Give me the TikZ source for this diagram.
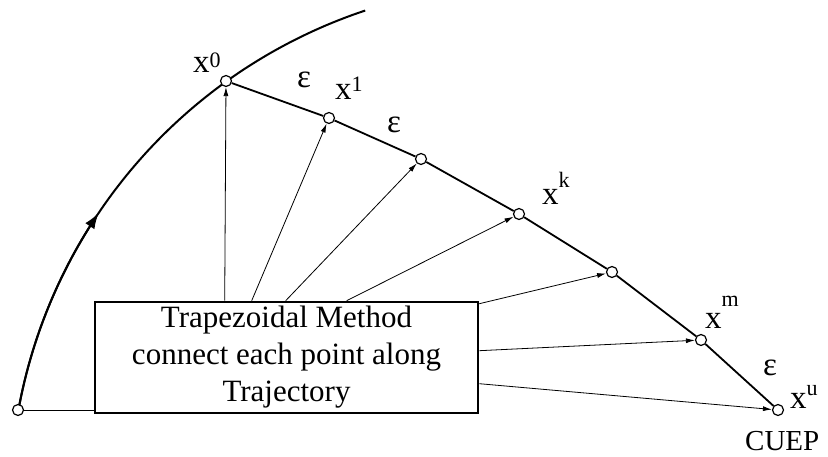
\documentclass[tikz,border=0pt]{standalone}
\usepackage{fontspec}
\setmainfont{Liberation Serif}
\usetikzlibrary{arrows.meta,calc}
\tikzset{
  pt/.style={circle,draw,fill=white,inner sep=0pt,minimum size=11pt,line width=1.2pt},
  traj/.style={line width=2pt},
  seg/.style={line width=1.8pt},
  thin/.style={line width=0.8pt,-{Latex[length=9pt,width=5pt]}},
  lbl/.style={inner sep=0pt,anchor=base west,font=\fontsize{33}{38}\selectfont},
  boxstyle/.style={draw,line width=2.6pt,minimum width=383pt,minimum height=111pt,align=center,inner sep=0pt,font=\fontsize{31}{37}\selectfont}
}
\newcommand{\supr}[2]{\raisebox{#1}{\fontsize{22}{22}\selectfont #2}}
\begin{document}
\begin{tikzpicture}[x=1pt,y=-1pt]
\useasboundingbox (0,0) rectangle (828,457);
% trajectory arc
\draw[traj] plot[domain=169.7:108.4,samples=80] ({529+519*cos(\x)},{503-519*sin(\x)});
\draw[traj,-{Latex[length=16pt,width=11pt]}] plot[domain=169.7:146,samples=40] ({529+519*cos(\x)},{503-519*sin(\x)});
% points
\node[pt] (o) at (18,410) {};
\node[pt] (p0) at (226,81) {};
\node[pt] (p1) at (329,118) {};
\node[pt] (p2) at (421,159) {};
\node[pt] (pk) at (519,214) {};
\node[pt] (p4) at (612,272) {};
\node[pt] (pm) at (701,340) {};
\node[pt] (pu) at (778,410) {};
\draw[seg] (p0) -- (p1) -- (p2) -- (pk) -- (p4) -- (pm) -- (pu);
% box
\node[boxstyle] (box) at (286.5,357.5) {Trapezoidal Method\\connect each point along\\Trajectory};
\draw[line width=0.8pt] (o) -- (o -| box.west);
\coordinate (s0) at ([xshift=131pt]box.north west);
\coordinate (s1) at ([xshift=158pt]box.north west);
\coordinate (s2) at ([xshift=192pt]box.north west);
\coordinate (s3) at ([xshift=253pt]box.north west);
\coordinate (s4) at ([yshift=-3pt]box.north east);
\coordinate (s5) at ([yshift=-50pt]box.north east);
\coordinate (s6) at ([yshift=-83pt]box.north east);
\draw[thin] (s0) -- (p0);
\draw[thin] (s1) -- (p1);
\draw[thin] (s2) -- (p2);
\draw[thin] (s3) -- (pk);
\draw[thin] (s4) -- (p4);
\draw[thin] (s5) -- (pm);
\draw[thin] (s6) -- (pu);
% labels
\node[lbl] (l0) at (193,73) {x\supr{5pt}{0}};
\node[lbl] (l1) at (335,100) {x\supr{8pt}{1}};
\node[lbl] (lk) at (542,205) {x\supr{17pt}{k}};
\node[lbl] (lm) at (705,328) {x\supr{21pt}{m}};
\node[lbl] (lu) at (790,408) {x\supr{13pt}{u}};
\node[lbl] (e1) at (297,88) {ε};
\node[lbl] (e2) at (387,133) {ε};
\node[lbl] (e3) at (763,375) {ε};
\node[lbl,font=\fontsize{29}{34}\selectfont] (cuep) at (745,450) {CUEP};
\end{tikzpicture}
\end{document}
